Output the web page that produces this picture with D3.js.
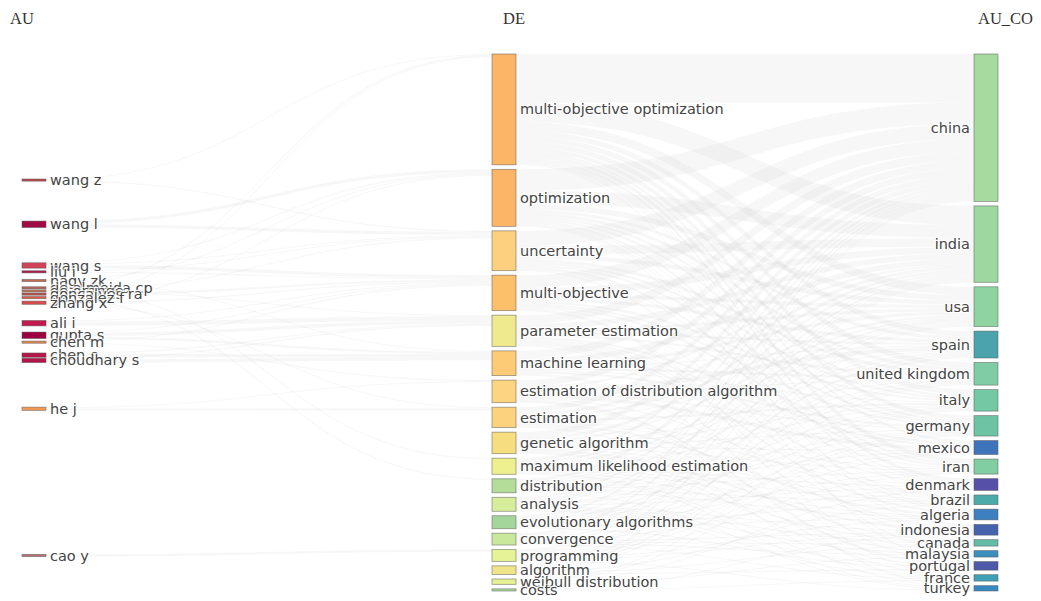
<!DOCTYPE html>
<html><head><meta charset="utf-8">
<script src="https://cdn.jsdelivr.net/npm/d3@7"></script>
<style>
body{margin:0;background:#fff;}
text.lbl{font-family:"DejaVu Sans",Verdana,sans-serif;font-size:14.5px;fill:#444;
 text-shadow:1px 1px 1px #fff,-1px -1px 1px #fff,1px -1px 1px #fff,-1px 1px 1px #fff;}
text.hdr{font-family:"Liberation Serif","Times New Roman",serif;font-size:16.5px;fill:#333;}
</style></head><body>
<svg id="c" width="1041" height="601"></svg>
<script>
// ---------------- data ----------------
const fields = ["AU", "DE", "AU_CO"];

const authors = ["wang z","wang l","wang s","liu j","nagy zk","de almeida cp","de orange","goncalves ra",
  "gonzalez f","zhang x","ali i","gupta s","chen m","chen c","choudhary s","he j","cao y"];
const authorColors = ["#c0474f","#a00b45","#d24458","#b0204c","#c46a4f","#b8675a","#c07a5a","#b75248",
  "#e05a4a","#da4e4f","#c21a4e","#9e0142","#e08a50","#b6164a","#b3154b","#f29a55","#b87070"];

const keywords = ["multi-objective optimization","optimization","uncertainty","multi-objective",
  "parameter estimation","machine learning","estimation of distribution algorithm","estimation",
  "genetic algorithm","maximum likelihood estimation","distribution","analysis","evolutionary algorithms",
  "convergence","programming","algorithm","weibull distribution","costs"];
const keywordColors = ["#fcb566","#fcb566","#fcd07e","#fdc06a","#f0ea8f","#fdca75","#fdd581","#fdd27c",
  "#f6dd80","#eef08e","#b3dd98","#d6ee9b","#a4d69b","#c9e89b","#e6f396","#efe48a","#e4f194","#a9d89b"];

const countries = ["china","india","usa","spain","united kingdom","italy","germany","mexico","iran",
  "denmark","brazil","algeria","indonesia","canada","malaysia","portugal","france","turkey"];
const countryColors = ["#a6dba0","#9ed8a0","#8fd3a1","#4aa3ad","#80cda5","#74c9a5","#6cc4a4","#3f74bc","#82cea3",
  "#5651a8","#4caba6","#3d80c0","#4663ad","#63bca6","#3a8fbc","#4e59a9","#3e9fb5","#3689c0"];

// author -> keyword flows
const auToDe = [
  ["wang z","multi-objective optimization",1],["wang z","uncertainty",1],
  ["wang l","optimization",3],["wang l","uncertainty",3],
  ["wang s","optimization",1],["wang s","uncertainty",1],["wang s","multi-objective",3],
  ["liu j","uncertainty",1],["liu j","multi-objective",1],
  ["nagy zk","optimization",1],["nagy zk","machine learning",1],
  ["de almeida cp","multi-objective optimization",1],["de almeida cp","maximum likelihood estimation",1],
  ["de orange","uncertainty",1],["de orange","parameter estimation",1],
  ["goncalves ra","multi-objective",2],
  ["gonzalez f","multi-objective optimization",1],["gonzalez f","distribution",1],
  ["zhang x","optimization",1],["zhang x","multi-objective",1],["zhang x","estimation",1],
  ["ali i","parameter estimation",4],["ali i","multi-objective",1],
  ["gupta s","parameter estimation",3],["gupta s","machine learning",2],["gupta s","multi-objective",1],
  ["chen m","multi-objective",1],["chen m","estimation of distribution algorithm",1],
  ["chen c","parameter estimation",1],["chen c","machine learning",3],
  ["choudhary s","parameter estimation",1],["choudhary s","machine learning",3],
  ["he j","estimation of distribution algorithm",1],["he j","estimation",2],
  ["cao y","programming",2]
];

// keyword (rows, same order as keywords) -> country (columns, same order as countries)
const deToCo = [
  [45,18,8,5,5,5,4,2,4,3,1,1,1,0,0,1,0,0],
  [20,12,5,3,3,2,2,0,2,1,0,1,1,0,1,0,0,0],
  [14,8,4,0,3,2,2,0,2,1,0,0,0,1,0,0,0,0],
  [12,6,3,3,0,2,2,2,0,0,1,0,0,0,0,1,1,0],
  [8,5,3,2,2,0,0,2,1,1,1,2,1,0,0,0,0,1],
  [7,5,3,1,2,1,2,0,0,0,0,0,1,0,1,0,0,0],
  [6,2,0,4,1,0,1,3,0,0,1,0,0,0,0,2,1,0],
  [5,3,2,1,0,2,0,0,1,1,0,2,0,1,0,0,0,1],
  [5,3,2,0,1,1,1,1,1,0,1,0,2,0,1,1,0,0],
  [3,2,2,1,0,1,0,0,0,1,1,1,0,1,0,0,1,1],
  [3,1,1,1,1,0,1,1,1,0,1,1,0,0,0,0,0,1],
  [2,2,1,0,0,1,1,0,0,1,0,0,1,1,1,1,1,0],
  [2,1,0,2,1,1,0,1,1,0,1,1,0,0,0,1,0,0],
  [2,1,1,0,1,0,1,0,0,1,0,0,1,1,1,0,1,0],
  [1,1,1,1,0,1,1,1,1,0,0,1,1,0,0,0,0,1],
  [1,1,1,1,1,0,0,0,0,0,1,0,0,1,0,1,0,0],
  [1,0,0,0,0,1,1,0,0,1,0,0,0,0,1,0,0,0],
  [0,0,0,0,0,0,0,0,0,0,0,0,1,0,0,0,1,0]
];

// ---------------- layout ----------------
const W = 1041, H = 601;
const y0Top = 54, y1Bot = 591, nodeW = 24, pad = 4.5, padLeft = 1;
const colX = d3.scaleOrdinal().domain(fields).range([22, 492, 974]);

const mk = (names, colors, col) => names.map((n, i) => ({name: n, color: colors[i], col, idx: i, src: [], tgt: []}));
const colAU = mk(authors, authorColors, 0);
const colDE = mk(keywords, keywordColors, 1);
const colCO = mk(countries, countryColors, 2);
const byName = [new Map(colAU.map(d => [d.name, d])), new Map(colDE.map(d => [d.name, d])), new Map(colCO.map(d => [d.name, d]))];

const links = [];
auToDe.forEach(([a, k, v]) => links.push({source: byName[0].get(a), target: byName[1].get(k), value: v}));
deToCo.forEach((row, i) => row.forEach((v, j) => { if (v > 0) links.push({source: colDE[i], target: colCO[j], value: v}); }));
links.forEach(l => { l.source.src.push(l); l.target.tgt.push(l); });

[colAU, colDE, colCO].forEach(c => c.forEach(n => {
  n.value = Math.max(d3.sum(n.src, l => l.value), d3.sum(n.tgt, l => l.value));
}));

const columns = [colAU, colDE, colCO];
const ky = d3.min(columns, c => (y1Bot - y0Top - (c.length - 1) * pad) / d3.sum(c, d => d.value));
const hScale = d3.scaleLinear().domain([0, 1]).range([0, ky]);

columns.forEach(c => c.forEach(n => {
  n.x0 = colX(fields[n.col]); n.x1 = n.x0 + nodeW; n.h = hScale(n.value);
}));

// stacked columns (DE, AU_CO)
[colDE, colCO].forEach(c => {
  const total = d3.sum(c, d => d.h);
  const gap = (y1Bot - y0Top - total) / (c.length - 1);
  let y = y0Top;
  c.forEach(n => { n.y0 = y; n.y1 = y + n.h; y = n.y1 + gap; });
});

// AU column: relax to weighted centre of linked keywords, then resolve collisions
colAU.forEach(n => {
  const c = d3.sum(n.src, l => l.value * (l.target.y0 + l.target.y1) / 2) / d3.sum(n.src, l => l.value);
  n.y0 = c - n.h / 2; n.y1 = c + n.h / 2;
});
{
  const sorted = colAU.slice().sort((a, b) => a.y0 - b.y0 || a.idx - b.idx);
  let y = y0Top;
  sorted.forEach(n => { const dy = y - n.y0; if (dy > 0) { n.y0 += dy; n.y1 += dy; } y = n.y1 + padLeft; });
  let yb = y1Bot;
  for (let i = sorted.length - 1; i >= 0; i--) {
    const n = sorted[i]; const dy = n.y1 - yb; if (dy > 0) { n.y0 -= dy; n.y1 -= dy; } yb = n.y0 - padLeft;
  }
}

// link offsets
links.forEach(l => l.w = hScale(l.value));
columns.forEach(c => c.forEach(n => {
  n.src.sort((a, b) => a.target.y0 - b.target.y0);
  n.tgt.sort((a, b) => a.source.y0 - b.source.y0);
  let y = n.y0; n.src.forEach(l => { l.sy = y; y += l.w; });
  y = n.y0; n.tgt.forEach(l => { l.ty = y; y += l.w; });
}));

// ---------------- draw ----------------
const svg = d3.select("#c");
svg.append("rect").attr("width", W).attr("height", H).attr("fill", "#fff");

function linkPath(l) {
  const x0 = l.source.x1, x1 = l.target.x0;
  const xi = d3.interpolateNumber(x0, x1), c0 = xi(0.5), c1 = xi(0.5);
  const p = d3.path();
  p.moveTo(x0, l.sy);
  p.bezierCurveTo(c0, l.sy, c1, l.ty, x1, l.ty);
  p.lineTo(x1, l.ty + l.w);
  p.bezierCurveTo(c1, l.ty + l.w, c0, l.sy + l.w, x0, l.sy + l.w);
  p.closePath();
  return p.toString();
}

svg.append("g").selectAll("path").data(links).join("path")
  .attr("d", linkPath)
  .attr("fill", "rgb(205,205,205)")
  .attr("fill-opacity", 0.17);

const allNodes = [].concat(colAU, colDE, colCO);
svg.append("g").selectAll("rect").data(allNodes).join("rect")
  .attr("x", d => d.x0).attr("y", d => d.y0)
  .attr("width", nodeW).attr("height", d => Math.max(0.5, d.y1 - d.y0))
  .attr("fill", d => d.color)
  .attr("stroke", "#555").attr("stroke-opacity", 0.6).attr("stroke-width", 0.8);

svg.append("g").selectAll("text").data(allNodes).join("text")
  .attr("class", "lbl")
  .attr("x", d => d.col === 2 ? d.x0 - 4 : d.x1 + 4)
  .attr("y", d => (d.y0 + d.y1) / 2)
  .attr("dy", "0.35em")
  .attr("text-anchor", d => d.col === 2 ? "end" : "start")
  .text(d => d.name);

svg.append("g").selectAll("text").data(fields).join("text")
  .attr("class", "hdr")
  .attr("x", (d, i) => [10, 503, 978][i])
  .attr("y", 24)
  .text(d => d);
</script>
</body></html>
